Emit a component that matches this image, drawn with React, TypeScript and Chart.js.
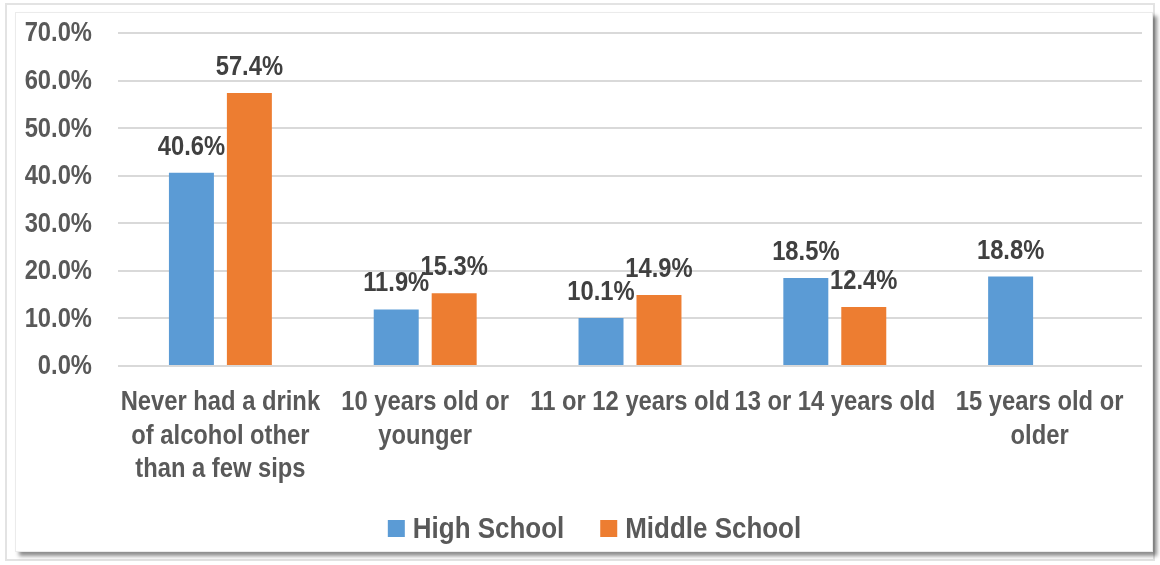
import React, { useEffect, useRef } from 'react';
import { Chart, registerables } from 'chart.js';

Chart.register(...registerables);

const categories: string[][] = [
  ['Never had a drink', 'of alcohol other', 'than a few sips'],
  ['10 years old or', 'younger'],
  ['11 or 12 years old'],
  ['13 or 14 years old'],
  ['15 years old or', 'older'],
];
const highSchool: (number | null)[] = [40.6, 11.9, 10.1, 18.5, 18.8];
const middleSchool: (number | null)[] = [57.4, 15.3, 14.9, 12.4, null];
const seriesNames = ['High School', 'Middle School'];
const seriesColors = ['#5B9BD5', '#ED7D31'];
const yTickValues = [0, 10, 20, 30, 40, 50, 60, 70];

const FONT = "'Liberation Sans', Arial, sans-serif";
const FONT_SIZE = 27;
const LEGEND_FONT_SIZE = 29.5;
const SX = 0.88; // horizontal condensing to mimic a narrow bold face
const TEXT = '#595959';
const LABEL = '#404040';

function drawText(ctx: CanvasRenderingContext2D, text: string, x: number, y: number, align: CanvasTextAlign, baseline: CanvasTextBaseline) {
  ctx.save();
  ctx.translate(x, y);
  ctx.scale(SX, 1);
  ctx.textAlign = align;
  ctx.textBaseline = baseline;
  ctx.fillText(text, 0, 0);
  ctx.restore();
}

const textPlugin = {
  id: 'customText',
  afterDraw(chart: any) {
    const ctx: CanvasRenderingContext2D = chart.ctx;
    const xs = chart.scales.x;
    const ys = chart.scales.y;
    ctx.save();
    ctx.font = `bold ${FONT_SIZE}px ${FONT}`;

    // y tick labels
    ctx.fillStyle = TEXT;
    yTickValues.forEach((v) => {
      drawText(ctx, `${v.toFixed(1)}%`, ys.right - 26, ys.getPixelForValue(v) + 1, 'right', 'middle');
    });

    // category labels
    categories.forEach((lines, i) => {
      const cx = xs.getPixelForTick(i);
      lines.forEach((line, j) => {
        drawText(ctx, line, cx, chart.chartArea.bottom + 44 + j * 33.5, 'center', 'alphabetic');
      });
    });

    // data labels
    ctx.fillStyle = LABEL;
    chart.data.datasets.forEach((ds: any, di: number) => {
      const meta = chart.getDatasetMeta(di);
      meta.data.forEach((el: any, i: number) => {
        const v = ds.data[i];
        if (v === null || v === undefined) return;
        drawText(ctx, `${v.toFixed(1)}%`, el.x, el.y - 18, 'center', 'alphabetic');
      });
    });

    // legend
    ctx.font = `bold ${LEGEND_FONT_SIZE}px ${FONT}`;
    const box = 17;
    const gapBoxText = 8;
    const gapItems = 36;
    const widths = seriesNames.map((n) => ctx.measureText(n).width * SX);
    const total = widths.reduce((a, w) => a + box + gapBoxText + w, 0) + gapItems * (seriesNames.length - 1);
    let x = 594.5 - total / 2;
    const baseY = 538;
    seriesNames.forEach((n, i) => {
      ctx.fillStyle = seriesColors[i];
      ctx.fillRect(x, 520, box, box);
      x += box + gapBoxText;
      ctx.fillStyle = TEXT;
      drawText(ctx, n, x, baseY, 'left', 'alphabetic');
      x += widths[i] + gapItems;
    });
    ctx.restore();
  },
};

export default function App() {
  const ref = useRef<HTMLCanvasElement>(null);
  useEffect(() => {
    if (!ref.current) return;
    const chart = new Chart(ref.current, {
      type: 'bar',
      data: {
        labels: categories,
        datasets: [
          { label: seriesNames[0], data: highSchool, backgroundColor: seriesColors[0] },
          { label: seriesNames[1], data: middleSchool, backgroundColor: seriesColors[1] },
        ],
      },
      options: {
        animation: false,
        responsive: false,
        devicePixelRatio: 1,
        layout: { padding: { left: 0, right: 18, top: 33, bottom: 59 } },
        datasets: { bar: { categoryPercentage: 0.566, barPercentage: 0.776 } },
        scales: {
          x: {
            grid: { display: false },
            border: { display: false },
            ticks: { display: false },
            afterFit: (s: any) => { s.height = 140; },
          },
          y: {
            min: 0,
            max: 70,
            border: { display: false },
            grid: { color: '#D9D9D9', lineWidth: 2, drawTicks: false },
            ticks: { display: false, stepSize: 10 },
            afterFit: (s: any) => { s.width = 118; },
          },
        },
        plugins: {
          tooltip: { enabled: false },
          legend: { display: false },
        },
      },
      plugins: [textPlugin],
    } as any);
    return () => chart.destroy();
  }, []);

  return (
    <div style={{ position: 'absolute', left: 0, top: 0, width: 1160, height: 565, background: '#fff' }}>
      <div style={{ position: 'absolute', left: 5, top: 3, width: 1150, height: 558, border: '2px solid #E3E3E3', boxSizing: 'border-box' }} />
      <div style={{ position: 'absolute', left: 15, top: 12, width: 1138, height: 540, border: '1px solid #EBEBEB', boxSizing: 'border-box', boxShadow: '4px 4px 4px rgba(0,0,0,0.45)' }} />
      <canvas ref={ref} width={1160} height={565} style={{ position: 'absolute', left: 0, top: 0, width: 1160, height: 565 }} />
    </div>
  );
}
